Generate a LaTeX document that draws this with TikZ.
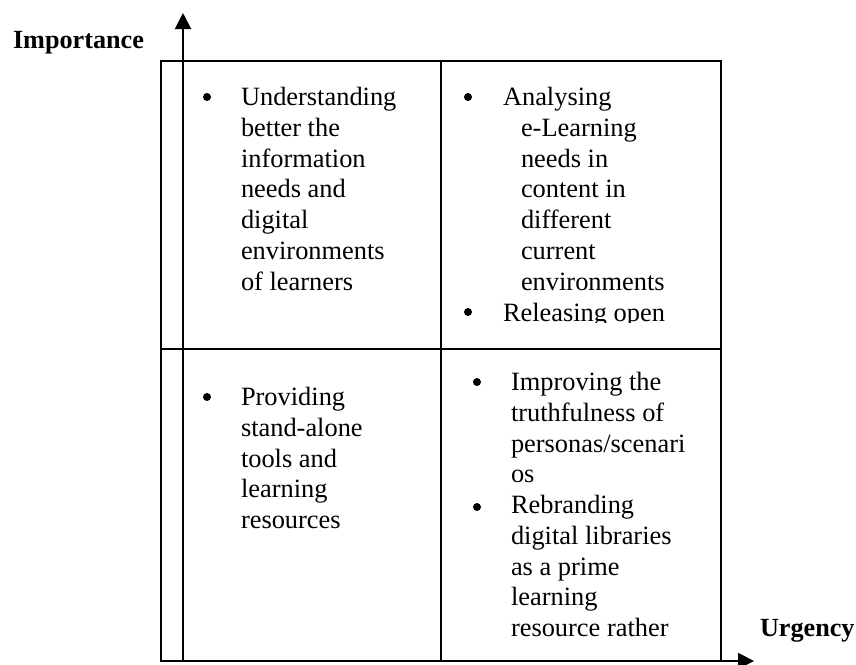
\documentclass[tikz,border=0pt]{standalone}
\usepackage{fontspec}
\setmainfont{Liberation Serif}
\usetikzlibrary{arrows.meta}

\tikzset{
  item/.style={anchor=north west, align=left, inner sep=0pt, yshift=8.75pt,
    execute at begin node=\strut, font=\fontsize{13.2}{15.35}\selectfont},
  dot/.style={circle, fill, inner sep=0pt, minimum size=4pt},
  axislabel/.style={anchor=base west, inner sep=0pt, font=\fontsize{13.1}{15}\selectfont\bfseries},
  axis/.style={line width=1pt, -{Triangle[length=8pt,width=8pt]}}
}

\begin{document}
\begin{tikzpicture}[x=0.5pt, y=-0.5pt, line width=1pt]
    \def\gridl{161}
    \def\gridr{721}
    \def\gridm{441}
    \def\gridt{61}
    \def\gridh{349}
    \def\gridb{661}
    \useasboundingbox (0,0) rectangle (856,664);
    % quadrants
    \draw (\gridl,\gridt) rectangle (\gridr,\gridb);
    \draw (\gridl,\gridh) -- (\gridr,\gridh);
    \draw (\gridm,\gridt) -- (\gridm,\gridb);
    % axes
    \coordinate (impfoot) at (183,\gridb);
    \coordinate (imptip) at (183,13);
    \coordinate (urgfoot) at (\gridl,\gridb);
    \coordinate (urgtip) at (754,\gridb);
    \draw[axis] (impfoot) -- (imptip);
    \draw[axis] (urgfoot) -- (urgtip);
    \node[axislabel] (implabel) at (12,48) {Importance};
    \node[axislabel] (urglabel) at (759,636) {Urgency};
    % top left
    \node[dot] (dotA) at (207,97) {};
    \node[item] (itemA) at (240,104) {Understanding\\better the\\information\\needs and\\digital\\environments\\of learners};
    % top right, cut off at the bottom
    \begin{scope}
        \clip (\gridm,\gridt) rectangle (\gridr,322);
        \node[dot] (dotB) at (468,97) {};
        \node[item] (itemB) at (502,104) {Analysing\\\hspace*{9pt}e-Learning\\\hspace*{9pt}needs in\\\hspace*{9pt}content in\\\hspace*{9pt}different\\\hspace*{9pt}current\\\hspace*{9pt}environments};
        \node[dot] (dotC) at (468,312) {};
        \node[item] (itemC) at (502,317) {Releasing open};
    \end{scope}
    % bottom left
    \node[dot] (dotD) at (207,397) {};
    \node[item] (itemD) at (240,404) {Providing\\stand-alone\\tools and\\learning\\resources};
    % bottom right
    \node[dot] (dotE) at (477,382) {};
    \node[item] (itemE) at (510,389) {Improving the\\truthfulness of\\personas/scenari\\os};
    \node[dot] (dotF) at (477,507) {};
    \node[item] (itemF) at (510,512) {Rebranding\\digital libraries\\as a prime\\learning\\resource rather};
\end{tikzpicture}
\end{document}
